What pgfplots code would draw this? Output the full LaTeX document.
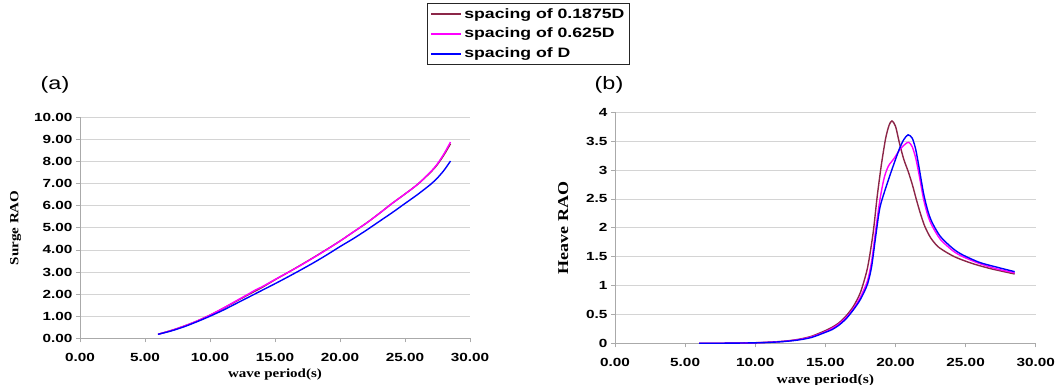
\documentclass[border=0pt]{standalone}
\usepackage{fontspec}
\usepackage{pgfplots}
\pgfplotsset{compat=1.18}
\newfontfamily\arialf[FakeStretch=1.3]{Liberation Sans}
\newfontfamily\tnrf[FakeStretch=1.2]{Liberation Serif}
\definecolor{maroonc}{RGB}{140,38,72}
\definecolor{magc}{RGB}{255,0,255}
\definecolor{bluec}{RGB}{0,0,255}
\definecolor{gridc}{RGB}{212,212,212}
\definecolor{axc}{RGB}{170,170,170}
\pgfplotsset{
  common/.style={
    scale only axis,
    xmin=0, xmax=30,
    xtick={0,5,...,30},
    axis x line*=bottom, axis y line*=left,
    axis line style={axc,-},
    tick style={axc, line width=0.6pt},
    tick align=outside,
    major tick length=4pt,
    ymajorgrids, grid style={gridc, line width=0.7pt},
    /pgf/number format/assume math mode=true,
    ticklabel style={font=\arialf\bfseries\fontsize{11.8}{13}\selectfont},
    xticklabel={\pgfmathprintnumber[fixed,fixed zerofill,precision=2]{\tick}},
    xticklabel style={yshift=-7pt},
    every axis plot/.append style={line width=1.4pt},
    clip=false,
  }
}
\begin{document}
\begin{tikzpicture}
\begin{axis}[common,
  at={(80pt,46.7pt)}, anchor=south west,
  width=390pt, height=221pt,
  ymin=0, ymax=10, ytick={0,1,...,10},
  yticklabel={\pgfmathprintnumber[fixed,fixed zerofill,precision=2]{\tick}},
  xlabel={wave period(s)},
  ylabel={Surge RAO},
  xlabel style={font=\tnrf\bfseries\fontsize{12.5}{13}\selectfont, yshift=-1pt},
  ylabel style={font=\tnrf\bfseries\fontsize{12.5}{14}\selectfont, yshift=6pt},
  legend style={at={(0.890,1.517)}, anchor=north west, draw=black!85,
    fill=white, font=\arialf\bfseries\fontsize{13.6}{15}\selectfont,
    inner xsep=3pt, inner ysep=3pt, row sep=4.5pt},
  legend cell align=left,
  legend image code/.code={\draw[#1, line width=2pt] (0pt,0pt) -- (30pt,0pt);},
]
\addplot[maroonc, smooth, tension=0.45] coordinates {
(6,0.18) (7,0.35) (8,0.55) (9,0.78) (10,1.05) (11,1.35) (12,1.67) (13,1.99) (14,2.3)
(15,2.65) (16,2.98) (17,3.32) (18,3.67) (19,4.03) (20,4.4) (21,4.8) (22,5.2) (23,5.64)
(24,6.1) (25,6.53) (26,6.98) (27,7.53) (27.5,7.87) (28,8.3) (28.5,8.8)};
\addlegendentry{spacing of 0.1875D}
\addplot[magc, smooth, tension=0.45] coordinates {
(6,0.18) (7,0.35) (8,0.55) (9,0.78) (10,1.05) (11,1.36) (12,1.69) (13,2.02) (13.5,2.19) (14,2.33)
(15,2.66) (16,2.98) (17,3.31) (18,3.66) (19,4.02) (20,4.4) (21,4.8) (22,5.2) (23,5.64)
(24,6.1) (25,6.53) (26,6.98) (27,7.55) (27.5,7.9) (28,8.35) (28.5,8.88)};
\addlegendentry{spacing of 0.625D}
\addplot[bluec, smooth, tension=0.45] coordinates {
(6,0.18) (7,0.33) (8,0.52) (9,0.75) (10,1.0) (11,1.27) (12,1.57) (13,1.87) (14,2.17)
(15,2.47) (16,2.78) (17,3.1) (18,3.43) (19,3.78) (20,4.15) (21,4.5) (22,4.88) (23,5.28)
(24,5.68) (25,6.1) (26,6.52) (27,6.98) (27.5,7.26) (28,7.6) (28.5,8.02)};
\addlegendentry{spacing of D}
\end{axis}

\begin{axis}[common,
  at={(615pt,41.7pt)}, anchor=south west,
  width=420.7pt, height=231pt,
  ymin=0, ymax=4, ytick={0,0.5,...,4},
  yticklabels={0,0.5,1,1.5,2,2.5,3,3.5,4},
  xlabel={wave period(s)},
  ylabel={Heave RAO},
  xlabel style={font=\tnrf\bfseries\fontsize{13}{14}\selectfont, yshift=-1pt},
  ylabel style={font=\tnrf\bfseries\fontsize{15}{17}\selectfont, yshift=11pt},
]
\addplot[maroonc, smooth, tension=0.45] coordinates {
(6,0) (8,0.002) (10,0.01) (11,0.02) (12,0.035) (13,0.065) (14,0.12) (15,0.22) (15.5,0.28)
(16,0.36) (16.5,0.48) (17,0.64) (17.5,0.88) (18,1.3) (18.4,1.9) (18.7,2.55) (19,3.1)
(19.3,3.55) (19.55,3.78) (19.75,3.85) (20,3.76) (20.3,3.45) (20.6,3.18) (20.9,2.98)
(21.2,2.75) (21.5,2.48) (21.8,2.23) (22.1,2.02) (22.5,1.83) (23,1.68) (23.6,1.58)
(24.2,1.5) (24.8,1.44) (25.5,1.38) (26.2,1.33) (27,1.28) (28.5,1.2)};
\addplot[magc, smooth, tension=0.45] coordinates {
(6,0) (8,0.002) (10,0.009) (11,0.018) (12,0.033) (13,0.06) (14,0.11) (15,0.2) (15.5,0.26)
(16,0.34) (16.5,0.45) (17,0.6) (17.5,0.8) (18,1.08) (18.3,1.42) (18.6,1.98) (18.9,2.5)
(19.2,2.87) (19.5,3.07) (19.9,3.2) (20.3,3.35) (20.7,3.45) (20.95,3.48) (21.2,3.4)
(21.45,3.2) (21.7,2.9) (22,2.5) (22.3,2.22) (22.6,2.04) (23.2,1.8) (24.1,1.6) (24.8,1.5)
(26,1.38) (27.2,1.29) (28.5,1.22)};
\addplot[bluec, smooth, tension=0.45] coordinates {
(6,0) (8,0.002) (10,0.008) (11,0.016) (12,0.03) (13,0.055) (14,0.1) (15,0.19) (15.5,0.24)
(16,0.32) (16.5,0.43) (17,0.58) (17.5,0.76) (18,1.02) (18.3,1.33) (18.6,1.87) (18.9,2.36)
(19.4,2.76) (19.85,3.08) (20.3,3.38) (20.6,3.53) (20.9,3.61) (21.2,3.55) (21.45,3.35)
(21.7,3.02) (22,2.6) (22.3,2.3) (22.6,2.1) (23.2,1.85) (24.1,1.64) (24.8,1.53) (26,1.4)
(27.2,1.32) (28.5,1.24)};
\end{axis}

\node[font=\arialf\fontsize{18}{20}\selectfont] at (55pt,300pt) {(a)};
\node[font=\arialf\fontsize{18}{20}\selectfont] at (609pt,300pt) {(b)};
\pgfresetboundingbox
\path (0,0) rectangle (1060pt,385pt);
\end{tikzpicture}
\end{document}
